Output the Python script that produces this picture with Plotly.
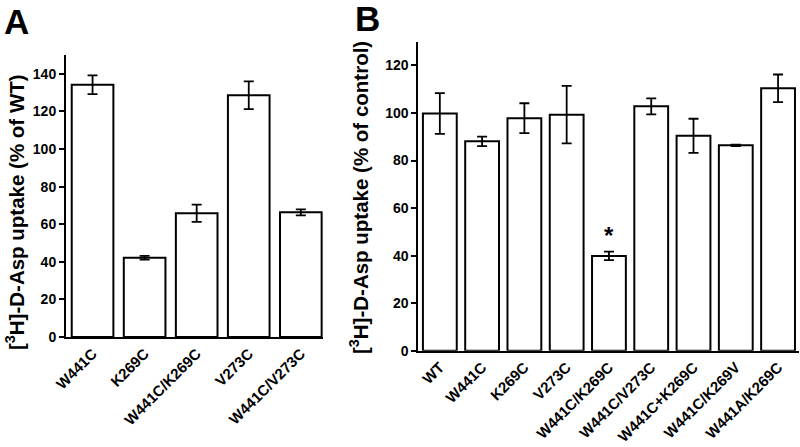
import plotly.graph_objects as go

# Panel A
cats_a = ["W441C", "K269C", "W441C/K269C", "V273C", "W441C/V273C"]
vals_a = [134.2, 42.2, 65.8, 128.6, 66.3]
errs_a = [5.0, 1.0, 4.6, 7.4, 1.6]

# Panel B
cats_b = ["WT", "W441C", "K269C", "V273C", "W441C/K269C", "W441C/V273C",
          "W441C+K269C", "W441C/K269V", "W441A/K269C"]
vals_b = [99.8, 88.1, 97.8, 99.3, 39.9, 102.8, 90.4, 86.4, 110.4]
errs_b = [8.6, 2.0, 6.3, 12.1, 1.8, 3.4, 7.2, 0.3, 5.8]
marks_b = ["", "", "", "", "*", "", "", "", ""]

ticks_a = [0, 20, 40, 60, 80, 100, 120, 140]
ticks_b = [0, 20, 40, 60, 80, 100, 120]

FONT = "Liberation Sans, Arial, sans-serif"

fig = go.Figure()
fig.add_trace(go.Bar(
    x=list(range(len(cats_a))), y=vals_a, width=0.8,
    marker=dict(color="white", line=dict(color="black", width=2)),
    error_y=dict(type="data", array=errs_a, color="black", thickness=1.8, width=5),
    xaxis="x", yaxis="y", showlegend=False))
fig.add_trace(go.Bar(
    x=list(range(len(cats_b))), y=vals_b, width=0.8,
    marker=dict(color="white", line=dict(color="black", width=2)),
    error_y=dict(type="data", array=errs_b, color="black", thickness=1.8, width=5),
    xaxis="x2", yaxis="y2", showlegend=False))

line_common = dict(showgrid=False, zeroline=False, showline=True, linecolor="black",
                   linewidth=2, automargin=False)
xfont = dict(family=FONT, size=15, color="black")
yfont = dict(family=FONT, size=14, color="black")

fig.update_layout(
    width=800, height=447, margin=dict(l=0, r=0, t=0, b=0),
    paper_bgcolor="white", plot_bgcolor="white", bargap=0.2,
    font=dict(family=FONT, color="black"),
    xaxis=dict(domain=[0.0825, 0.404], anchor="y", range=[-0.51, 4.43],
               tickmode="array", tickvals=list(range(len(cats_a))),
               ticktext=["<b>%s</b>" % c for c in cats_a], tickangle=-45,
               ticks="", tickfont=xfont, **line_common),
    yaxis=dict(domain=[0.246, 0.877], anchor="x", range=[0, 150],
               tickmode="array", tickvals=ticks_a,
               ticktext=["<b>%d</b>" % t for t in ticks_a],
               ticks="outside", ticklen=5, tickwidth=2, tickcolor="black",
               tickfont=yfont, **line_common),
    xaxis2=dict(domain=[0.523, 0.999], anchor="y2", range=[-0.507, 8.5],
                tickmode="array", tickvals=list(range(len(cats_b))),
                ticktext=["<b>%s</b>" % c for c in cats_b], tickangle=-45,
                ticks="", tickfont=xfont, **line_common),
    yaxis2=dict(domain=[0.2154, 0.9067], anchor="x2", range=[0, 130],
                tickmode="array", tickvals=ticks_b,
                ticktext=["<b>%d</b>" % t for t in ticks_b],
                ticks="outside", ticklen=5, tickwidth=2, tickcolor="black",
                tickfont=yfont, **line_common),
)

ann = [
    dict(text="<b>A</b>", x=16/800, y=1-22/447, xref="paper", yref="paper",
         xanchor="center", yanchor="middle",
         showarrow=False, font=dict(family=FONT, size=35, color="black")),
    dict(text="<b>B</b>", x=367/800, y=1-19/447, xref="paper", yref="paper",
         xanchor="center", yanchor="middle",
         showarrow=False, font=dict(family=FONT, size=35, color="black")),
    dict(text="<b>[<sup>3</sup>H]-D-Asp uptake (% of WT)</b>", x=15/800, y=1-212/447,
         xref="paper", yref="paper", textangle=-90, showarrow=False,
         xanchor="center", yanchor="middle",
         font=dict(family=FONT, size=20.5, color="black")),
    dict(text="<b>[<sup>3</sup>H]-D-Asp uptake (% of control)</b>", x=359/800, y=1-198/447,
         xref="paper", yref="paper", textangle=-90, showarrow=False,
         xanchor="center", yanchor="middle",
         font=dict(family=FONT, size=20.5, color="black")),
]
for i, m in enumerate(marks_b):
    if m:
        ann.append(dict(text="<b>%s</b>" % m, x=i, y=vals_b[i] + errs_b[i] + 0.3,
                        xref="x2", yref="y2", showarrow=False, yanchor="bottom",
                        font=dict(family=FONT, size=24, color="black")))
fig.update_layout(annotations=ann)

fig.write_html("out.html", config={"displayModeBar": False},
               post_script="document.body.style.margin='0';document.body.style.padding='0';")
